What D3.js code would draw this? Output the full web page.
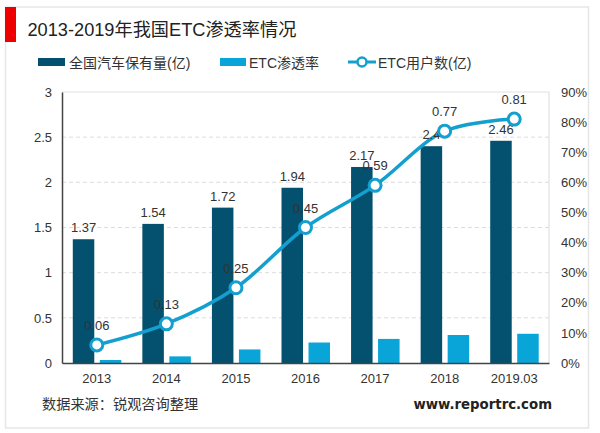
<!DOCTYPE html>
<html><head><meta charset="utf-8">
<script src="https://cdnjs.cloudflare.com/ajax/libs/d3/7.8.5/d3.min.js"></script>
<style>html,body{margin:0;padding:0;background:#fff}svg{display:block}
text{font-family:"Liberation Sans","Noto Sans CJK SC",sans-serif;fill:#333}</style></head>
<body><svg id="c" width="600" height="433"></svg>
<script>
const categories=["2013","2014","2015","2016","2017","2018","2019.03"];
const vehicles=[1.37,1.54,1.72,1.94,2.17,2.4,2.46];
const penetration=[1,2.2,4.5,6.8,8,9.3,9.7];
const users=[0.06,0.13,0.25,0.45,0.59,0.77,0.81];
const leftTicks=[0,0.5,1,1.5,2,2.5,3];
const rightTicks=[0,10,20,30,40,50,60,70,80,90];
const titleText="2013-2019年我国ETC渗透率情况";
const legendLabels=["全国汽车保有量(亿)","ETC渗透率","ETC用户数(亿)"];
const sourceText="数据来源：锐观咨询整理";
const siteText="www.reportrc.com";
const dark="#03506f",light="#0aa5d8",lineC="#14a0cf";

const svg=d3.select("#c");
const L=62,R=549,T=92,B=363;
const x=d3.scaleBand().domain(categories).range([L,R]);
const yL=d3.scaleLinear().domain([0,3]).range([B,T]);
const yR=d3.scaleLinear().domain([0,90]).range([B,T]);
const barW=21.5;

svg.append("rect").attr("x",5.5).attr("y",7).attr("width",583).attr("height",421).attr("fill","#fff").attr("stroke","#e6e6e6").attr("stroke-width",1.5);
svg.append("rect").attr("x",5).attr("y",7).attr("width",11).attr("height",35).attr("fill","#ee0000");
svg.append("text").attr("x",27.5).attr("y",36).attr("font-size",18.2).style("fill","#222").text(titleText);

// legend
const ly=62,lfs=14;
svg.append("rect").attr("x",38).attr("y",ly-4).attr("width",27).attr("height",8).attr("fill",dark);
svg.append("text").attr("x",69).attr("y",ly+5.5).attr("font-size",lfs).text(legendLabels[0]);
svg.append("rect").attr("x",220).attr("y",ly-4).attr("width",26).attr("height",8).attr("fill",light);
svg.append("text").attr("x",249).attr("y",ly+5.5).attr("font-size",lfs).text(legendLabels[1]);
svg.append("line").attr("x1",348).attr("x2",376).attr("y1",ly).attr("y2",ly).attr("stroke",lineC).attr("stroke-width",3);
svg.append("circle").attr("cx",362).attr("cy",ly).attr("r",4.5).attr("fill","#fff").attr("stroke",lineC).attr("stroke-width",2.5);
svg.append("text").attr("x",378).attr("y",ly+5.5).attr("font-size",lfs).text(legendLabels[2]);

// grid + frame
svg.append("g").selectAll("line").data(leftTicks.filter(d=>d>0&&d<3)).join("line")
 .attr("x1",L).attr("x2",R).attr("y1",d=>yL(d)).attr("y2",d=>yL(d))
 .attr("stroke","#dcdcdc").attr("stroke-dasharray","4 3");
svg.append("path").attr("d",`M${L},${T}H${R}V${B}`).attr("fill","none").attr("stroke","#e2e2e2").attr("stroke-width",1.2);

// bars
svg.append("g").selectAll("rect").data(vehicles).join("rect")
 .attr("x",(d,i)=>x(categories[i])+x.bandwidth()/2-24).attr("width",barW)
 .attr("y",d=>yL(d)).attr("height",d=>B-yL(d)).attr("fill",dark);
svg.append("g").selectAll("rect").data(penetration).join("rect")
 .attr("x",(d,i)=>x(categories[i])+x.bandwidth()/2+3).attr("width",barW)
 .attr("y",d=>yR(d)).attr("height",d=>B-yR(d)).attr("fill",light);

// axes
const axL=svg.append("g").attr("transform",`translate(${L},0)`).call(d3.axisLeft(yL).tickValues(leftTicks).tickSize(0).tickPadding(10).tickFormat(d=>d));
const axR=svg.append("g").attr("transform",`translate(${R},0)`).call(d3.axisRight(yR).tickValues(rightTicks).tickSize(0).tickPadding(12).tickFormat(d=>d+"%"));
const axB=svg.append("g").attr("transform",`translate(0,${B})`).call(d3.axisBottom(x).tickSize(0).tickPadding(11));
axR.select(".domain").remove();
axL.select(".domain").attr("stroke","#444").attr("stroke-width",1.5);
axB.select(".domain").attr("stroke","#444").attr("stroke-width",1.5);
[axL,axR,axB].forEach(a=>a.selectAll("text").attr("font-size",13).style("font-family",'"Liberation Sans",sans-serif').style("fill","#333"));

// line
const cx=i=>x(categories[i])+x.bandwidth()/2;
const line=d3.line().x((d,i)=>cx(i)).y(d=>yR(d*100)).curve(d3.curveCatmullRom.alpha(0.5));
svg.append("path").datum(users).attr("d",line).attr("fill","none").attr("stroke",lineC).attr("stroke-width",3.5);

// vehicle labels
svg.append("g").selectAll("text").data(vehicles).join("text")
 .attr("x",(d,i)=>x(categories[i])+x.bandwidth()/2-13.2).attr("y",d=>yL(d)-7)
 .attr("text-anchor","middle").attr("font-size",13).text(d=>d);

svg.append("g").selectAll("circle").data(users).join("circle")
 .attr("cx",(d,i)=>cx(i)).attr("cy",d=>yR(d*100)).attr("r",6).attr("fill","#fff").attr("stroke",lineC).attr("stroke-width",3);
svg.append("g").selectAll("text").data(users).join("text")
 .attr("x",(d,i)=>cx(i)).attr("y",d=>yR(d*100)-15).attr("text-anchor","middle").attr("font-size",13).text(d=>d);

svg.append("text").attr("x",42).attr("y",409).attr("font-size",14.2).text(sourceText);
svg.append("text").attr("x",552).attr("y",409).attr("text-anchor","end").attr("font-size",13.3).attr("font-weight","bold")
 .style("font-family",'"DejaVu Sans",sans-serif').style("fill","#222").text(siteText);
</script></body></html>
